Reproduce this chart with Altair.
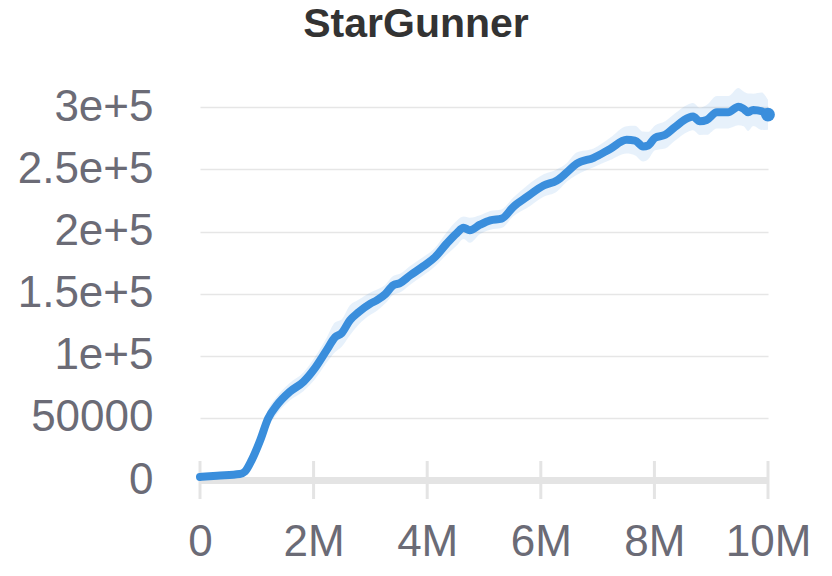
import altair as alt
import pandas as pd

# steps in millions, mean return, band half-width
steps = [0.0, 0.3, 0.7, 0.79, 0.91, 1.06, 1.20, 1.35, 1.58, 1.82, 2.02, 2.23, 2.38, 2.49,
         2.64, 2.79, 3.0, 3.11, 3.26, 3.40, 3.52, 3.70, 3.93, 4.14, 4.34, 4.52, 4.64,
         4.75, 4.93, 5.11, 5.31, 5.52, 5.75, 6.05, 6.28, 6.46, 6.63, 6.93, 7.22, 7.51,
         7.66, 7.80, 7.89, 8.01, 8.19, 8.36, 8.60, 8.68, 8.80, 8.92, 9.10, 9.30, 9.48,
         9.57, 9.65, 9.74, 9.89, 10.0]
mean = [2500, 3500, 4800, 6700, 16000, 32000, 49600, 60000, 71000, 79000, 89800, 104500,
        115000, 118000, 128600, 135000, 142000, 144600, 149500, 156700, 158500, 164700,
        172000, 179500, 190200, 198700, 203000, 201000, 205500, 209000, 210300, 220000,
        227700, 237000, 241000, 247700, 254500, 259300, 266500, 273800, 273200, 268400,
        269200, 275400, 277800, 284000, 291500, 292500, 288700, 289800, 296000, 296000,
        300500, 298700, 296000, 297900, 296800, 294000]
spread = [1500, 1800, 2200, 3000, 4500, 6000, 7000, 7000, 7000, 7500, 9000, 10000,
          12000, 11000, 12000, 10000, 9000, 8500, 7500, 7500, 7500, 7500, 7500, 7500,
          9000, 10000, 9000, 10000, 7500, 7500, 7500, 7500, 9000, 9000, 9000, 7500,
          9000, 7500, 9000, 11000, 12000, 12000, 11000, 10000, 11000, 11000, 11000, 11000,
          11000, 12000, 13000, 13000, 15000, 14000, 15000, 13000, 15000, 12000]
x_ticks = [0, 2, 4, 6, 8, 10]
y_ticks = [0, 50000, 100000, 150000, 200000, 250000, 300000]

df = pd.DataFrame({"step": steps, "mean": mean,
                   "lo": [m - s for m, s in zip(mean, spread)],
                   "hi": [m + s for m, s in zip(mean, spread)]})
end = df.tail(1)
ticks_df = pd.DataFrame({"t": x_ticks})

W, H = 568, 410
LABEL = "#6b6b76"
BLUE = "#3a8edc"

xscale = alt.Scale(domain=[0, 10], nice=False)
yscale = alt.Scale(domain=[0, 330000], nice=False)

x_axis = alt.Axis(values=x_ticks, labelExpr="datum.value == 0 ? '0' : datum.value + 'M'",
                  title=None, grid=False, ticks=False, tickSize=0, labelPadding=40,
                  labelFontSize=44, labelFont="Liberation Sans", labelColor=LABEL,
                  domainColor="#e4e4e4", domainWidth=7, labelFlush=False)
y_axis = alt.Axis(values=y_ticks, labelExpr="datum.value == 0 ? '0' : datum.value == 50000 ? '50000' : format(datum.value/1e5, '') + 'e+5'",
                  title=None, grid=True, gridColor="#e6e6e6", gridWidth=1.5,
                  ticks=False, tickSize=0, domain=False, labelPadding=47,
                  labelFontSize=44, labelFont="Liberation Sans", labelColor=LABEL)

band = alt.Chart(df).mark_area(color=BLUE, opacity=0.12, interpolate="monotone").encode(
    x=alt.X("step:Q", scale=xscale, axis=x_axis),
    y=alt.Y("lo:Q", scale=yscale, axis=y_axis),
    y2="hi:Q")

tick_rules = alt.Chart(ticks_df).mark_rule(color="#e4e4e4", strokeWidth=3).encode(
    x=alt.X("t:Q", scale=xscale),
    y=alt.value(H - 19), y2=alt.value(H + 19))

line = alt.Chart(df).mark_line(color=BLUE, strokeWidth=8, interpolate="monotone",
                               strokeCap="round", strokeJoin="round").encode(
    x=alt.X("step:Q", scale=xscale),
    y=alt.Y("mean:Q", scale=yscale))

dot = alt.Chart(end).mark_point(color=BLUE, filled=True, opacity=1, size=190).encode(
    x=alt.X("step:Q", scale=xscale),
    y=alt.Y("mean:Q", scale=yscale))

chart = alt.layer(band, tick_rules, line, dot).properties(
    width=W, height=H,
    title=alt.TitleParams("StarGunner", font="Liberation Sans", fontSize=41,
                          fontWeight="bold", color="#333333", anchor="middle",
                          offset=24, dx=-68),
    autosize=alt.AutoSizeParams(type="none"),
    padding={"left": 192, "top": 62, "right": 56, "bottom": 96},
).configure_view(stroke=None)

chart.save("out.html", embed_options={"renderer": "svg", "actions": False})
